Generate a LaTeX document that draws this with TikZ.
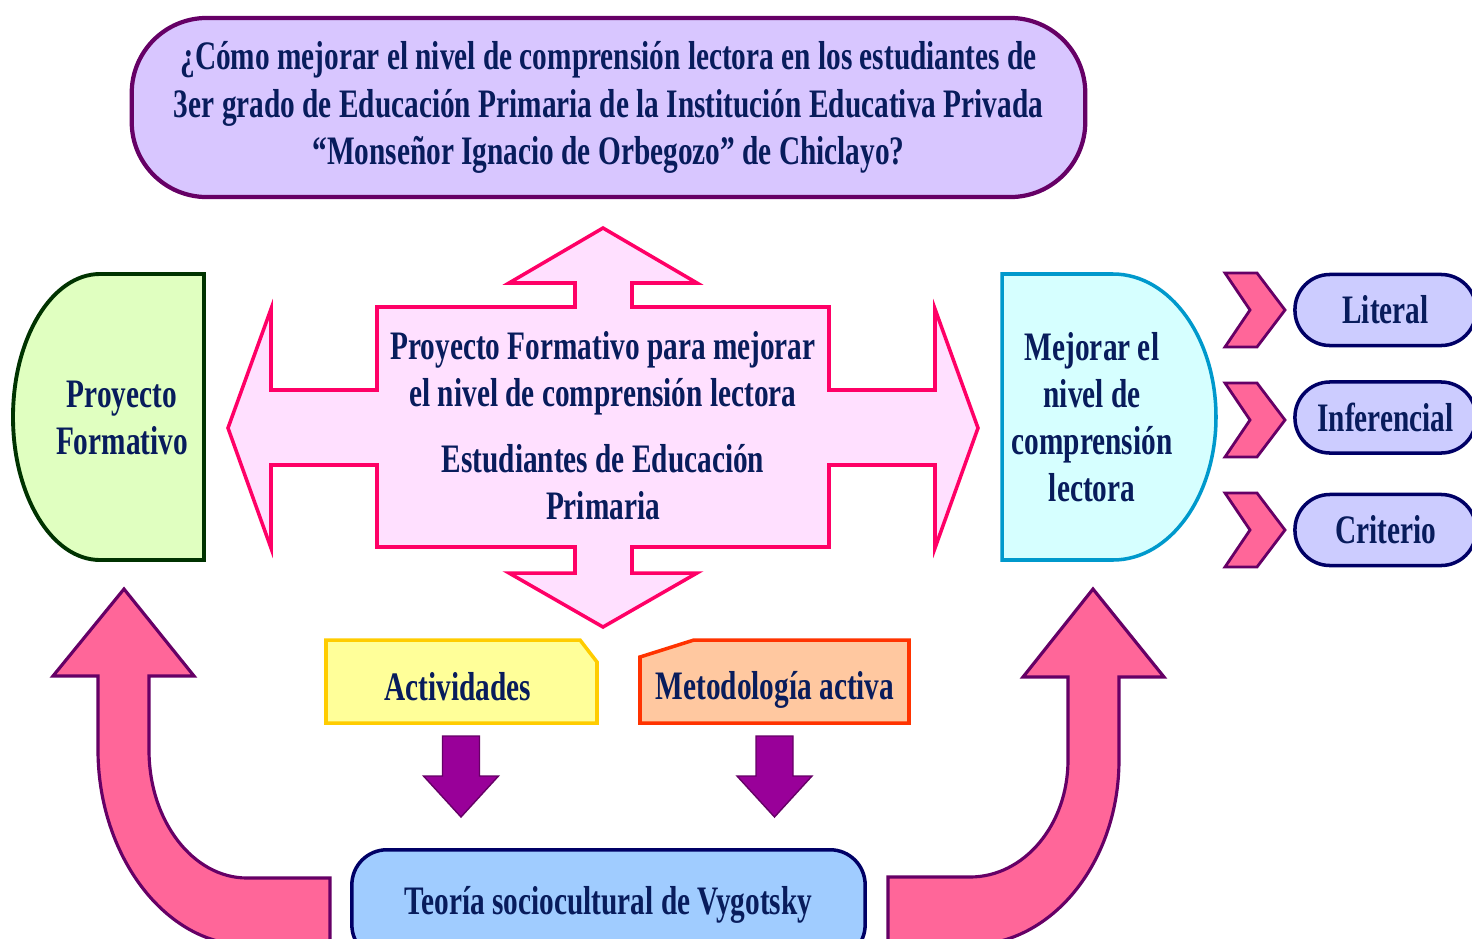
\documentclass[tikz,border=0pt]{standalone}
\usepackage{fontspec}
\setmainfont{Liberation Serif}[FakeStretch=0.725]

\definecolor{txtblue}{RGB}{8,28,92}
\definecolor{qfill}{RGB}{216,198,255}
\definecolor{plum}{RGB}{102,0,102}
\definecolor{crossfill}{RGB}{255,224,255}
\definecolor{crossline}{RGB}{255,0,102}
\definecolor{greenfill}{RGB}{224,255,192}
\definecolor{greenline}{RGB}{0,51,0}
\definecolor{cyanfill}{RGB}{214,255,255}
\definecolor{cyanline}{RGB}{0,153,204}
\definecolor{upink}{RGB}{255,102,153}
\definecolor{pillfill}{RGB}{204,204,255}
\definecolor{navyline}{RGB}{0,0,102}
\definecolor{yellowfill}{RGB}{255,255,153}
\definecolor{yellowline}{RGB}{255,204,0}
\definecolor{peachfill}{RGB}{255,200,160}
\definecolor{peachline}{RGB}{255,51,0}
\definecolor{arrowpurple}{RGB}{153,0,153}
\definecolor{skyfill}{RGB}{160,204,255}

\begin{document}
\begin{tikzpicture}
    [x=0.01cm,y=-0.01cm,
     lbl/.style={text=txtblue,font=\bfseries\fontsize{11.5}{13.4}\selectfont,align=center,inner sep=0pt},
     pill/.style={lbl,draw=navyline,fill=pillfill,line width=1pt,rounded corners=0.35cm,
       minimum width=1.81cm,minimum height=0.71cm},
     cross/.style={draw=crossline,fill=crossfill,line width=1pt},
     uarrow/.style={draw=plum,fill=upink,line width=0.9pt},
     chev/.style={draw=plum,fill=upink,line width=0.8pt},
     darrow/.style={draw=plum,fill=arrowpurple,line width=0.4pt}]
    \useasboundingbox (0,0) rectangle (1472,939);
    \clip (0,0) rectangle (1472,939);
    % question
    \node [lbl,draw=plum,fill=qfill,line width=1.2pt,rounded corners=0.75cm,
      minimum width=9.53cm,minimum height=1.79cm] (pregunta) at (608.5,107.5)
      {¿Cómo mejorar el nivel de comprensión lectora en los estudiantes de\\
       3er grado de Educación Primaria de la Institución Educativa Privada\\
       “Monseñor Ignacio de Orbegozo” de Chiclayo?};
    % four-way arrow
    \draw [cross] (603,228) -- (697,283) -- (632,283) -- (632,307) -- (829,307)
      -- (829,390) -- (935,390) -- (935,309) -- (978,428) -- (935,548) -- (935,465)
      -- (829,465) -- (829,547) -- (632,547) -- (632,573) -- (697,573) -- (603,627)
      -- (509,573) -- (575,573) -- (575,547) -- (377,547) -- (377,465) -- (271,465)
      -- (271,548) -- (228,428) -- (271,309) -- (271,390) -- (377,390) -- (377,307)
      -- (575,307) -- (575,283) -- (509,283) -- cycle;
    \node [lbl] (proyectoform) at (603,373) {Proyecto Formativo para mejorar\\el nivel de comprensión lectora};
    \node [lbl] (estudiantes) at (603,482) {Estudiantes de Educación\\Primaria};
    % left and right half rounds
    \draw [draw=greenline,fill=greenfill,line width=1.1pt] (204,274) -- (100,274)
      .. controls (52,274) and (13,338) .. (13,417)
      .. controls (13,496) and (52,560) .. (100,560) -- (204,560) -- cycle;
    \node [lbl] (proyecto) at (122,418) {Proyecto\\Formativo};
    \draw [draw=cyanline,fill=cyanfill,line width=1pt] (1002,274) -- (1113,274)
      .. controls (1170,274) and (1216,338) .. (1216,417)
      .. controls (1216,496) and (1170,560) .. (1113,560) -- (1002,560) -- cycle;
    \node [lbl] (mejorar) at (1092,417) {Mejorar el\\nivel de\\comprensión\\lectora};
    % levels
    \foreach \y in {273,383,493}
      \draw [chev] (1225,\y) -- (1257,\y) -- (1285,{\y+37}) -- (1257,{\y+74})
        -- (1225,{\y+74}) -- (1250,{\y+37}) -- cycle;
    \node [pill] (literal) at (1385.5,310) {Literal};
    \node [pill] (inferencial) at (1385.5,417.5) {Inferencial};
    \node [pill] (criterio) at (1385.5,530) {Criterio};
    % activities and method
    \draw [draw=yellowline,fill=yellowfill,line width=1pt] (326,640) -- (580,640)
      -- (597,662) -- (597,723) -- (326,723) -- cycle;
    \node [lbl] (actividades) at (458,687) {Actividades};
    \draw [draw=peachline,fill=peachfill,line width=1pt] (694,640) -- (909,640)
      -- (909,723) -- (640,723) -- (640,657) -- cycle;
    \node [lbl] (metodologia) at (775,690) {Metodología activa};
    \foreach \x in {461,774.5}
      \draw [darrow] ({\x-18.5},736) -- ({\x+18.5},736) -- ({\x+18.5},776)
        -- ({\x+37.5},776) -- (\x,817) -- ({\x-37.5},776) -- ({\x-18.5},776) -- cycle;
    % theory
    \node [lbl,draw=navyline,fill=skyfill,line width=1pt,rounded corners=0.35cm,
      minimum width=5.13cm,minimum height=1.1cm,anchor=north] (teoria) at (608.5,848)
      {Teoría sociocultural de Vygotsky};
    % curved arrows
    \draw [uarrow] (124,589) -- (194,676) -- (149,676) -- (149,750)
      .. controls (149,821) and (193,878) .. (247,878) -- (330,878) -- (330,945)
      -- (247,945) .. controls (165,945) and (98,855) .. (98,750) -- (98,676)
      -- (53,676) -- cycle;
    \draw [uarrow] (1093,589) -- (1164,677) -- (1119,677) -- (1119,760)
      .. controls (1119,862) and (1052,945) .. (970,945) -- (888,945) -- (888,877)
      -- (970,877) .. controls (1024,877) and (1068,825) .. (1068,760) -- (1068,677)
      -- (1023,677) -- cycle;
  \end{tikzpicture}
\end{document}
